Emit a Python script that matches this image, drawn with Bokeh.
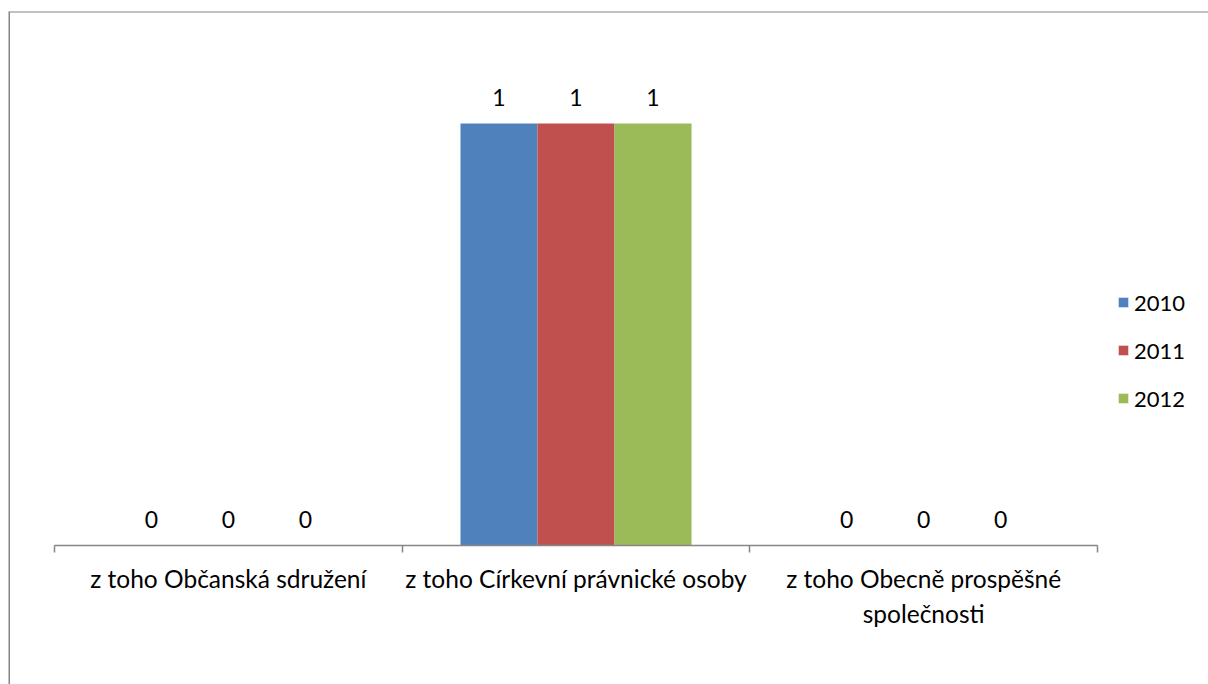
from bokeh.plotting import figure
from bokeh.models import (Range1d, LinearAxis, FixedTicker, CustomJSTickFormatter,
                          ColumnDataSource, Legend, LegendItem, Span)
from bokeh.core.properties import value
from bokeh.embed import file_html
from bokeh.resources import INLINE

categories = ["z toho Občanská sdružení", "z toho Církevní právnické osoby",
              "z toho Obecně prospěšné\nspolečnosti"]
years = ["2010", "2011", "2012"]
v2010 = [0, 1, 0]
v2011 = [0, 1, 0]
v2012 = [0, 1, 0]
colors = ["#4F81BD", "#C0504D", "#9BBB59"]

series = [v2010, v2011, v2012]
FONT = "Lato"
bar_w = 0.2215

xr = Range1d(-0.1323, 3.3192)
yr_ = Range1d(-0.3294, 1.2654)
p = figure(width=1208, height=684, output_backend="svg", toolbar_location=None,
           x_range=xr, y_range=yr_,
           x_axis_type=None, y_axis_type=None,
           min_border=0, min_border_top=11, min_border_left=8)
p.background_fill_color = "white"
p.border_fill_color = "white"
p.outline_line_color = None
p.xgrid.visible = False
p.ygrid.visible = False

# chart-area border (left and top edges; right/bottom fall outside the view)
p.add_layout(Span(location=xr.start, dimension="height", line_color="#868686", line_width=3))
p.add_layout(Span(location=yr_.end, dimension="width", line_color="#868686", line_width=2))

# axis with boundary ticks
ax1 = LinearAxis(fixed_location=0, bounds=(0, len(categories)),
                 ticker=FixedTicker(ticks=list(range(len(categories) + 1)), minor_ticks=[]),
                 formatter=CustomJSTickFormatter(code="return ''"))
ax1.axis_line_color = "#868686"
ax1.axis_line_width = 1.5
ax1.major_tick_line_color = "#868686"
ax1.major_tick_line_width = 1.5
ax1.major_tick_in = 0
ax1.major_tick_out = 7
ax1.minor_tick_line_color = None
p.add_layout(ax1, "below")

# axis with category labels
ax2 = LinearAxis(fixed_location=0,
                 ticker=FixedTicker(ticks=[i + 0.5 for i in range(len(categories))], minor_ticks=[]),
                 formatter=CustomJSTickFormatter(args=dict(labels=categories),
                                                 code="return labels[Math.floor(tick)]"))
ax2.axis_line_color = None
ax2.major_tick_line_color = None
ax2.minor_tick_line_color = None
ax2.major_label_text_font = FONT
ax2.major_label_text_font_size = "24.5px"
ax2.major_label_text_color = "black"
ax2.major_label_standoff = 13
p.add_layout(ax2, "below")

renderers = []
for k, (yr, vals, col) in enumerate(zip(years, series, colors)):
    xs = [i + 0.5 + (k - 1) * bar_w for i in range(len(categories))]
    src = ColumnDataSource(dict(x=xs, top=vals, lab=[str(v) for v in vals]))
    r = p.vbar(x="x", top="top", bottom=0, width=bar_w, source=src,
               fill_color=col, line_color=None)
    renderers.append(r)
    p.text(x="x", y="top", text="lab", source=src, text_align="center",
           text_baseline="middle", y_offset=-26, text_font=value(FONT),
           text_font_size="23px", text_color="black")

legend = Legend(items=[LegendItem(label=yr, renderers=[r]) for yr, r in zip(years, renderers)],
                location=(1109, 262))
legend.glyph_width = 12
legend.glyph_height = 12
legend.label_height = 48
legend.spacing = 0
legend.padding = 0
legend.margin = 0
legend.label_standoff = 5
legend.border_line_color = None
legend.background_fill_alpha = 0
legend.label_text_font = FONT
legend.label_text_font_size = "22px"
legend.label_text_color = "black"
p.add_layout(legend, "center")

open("out.html", "w").write(file_html(p, INLINE))
